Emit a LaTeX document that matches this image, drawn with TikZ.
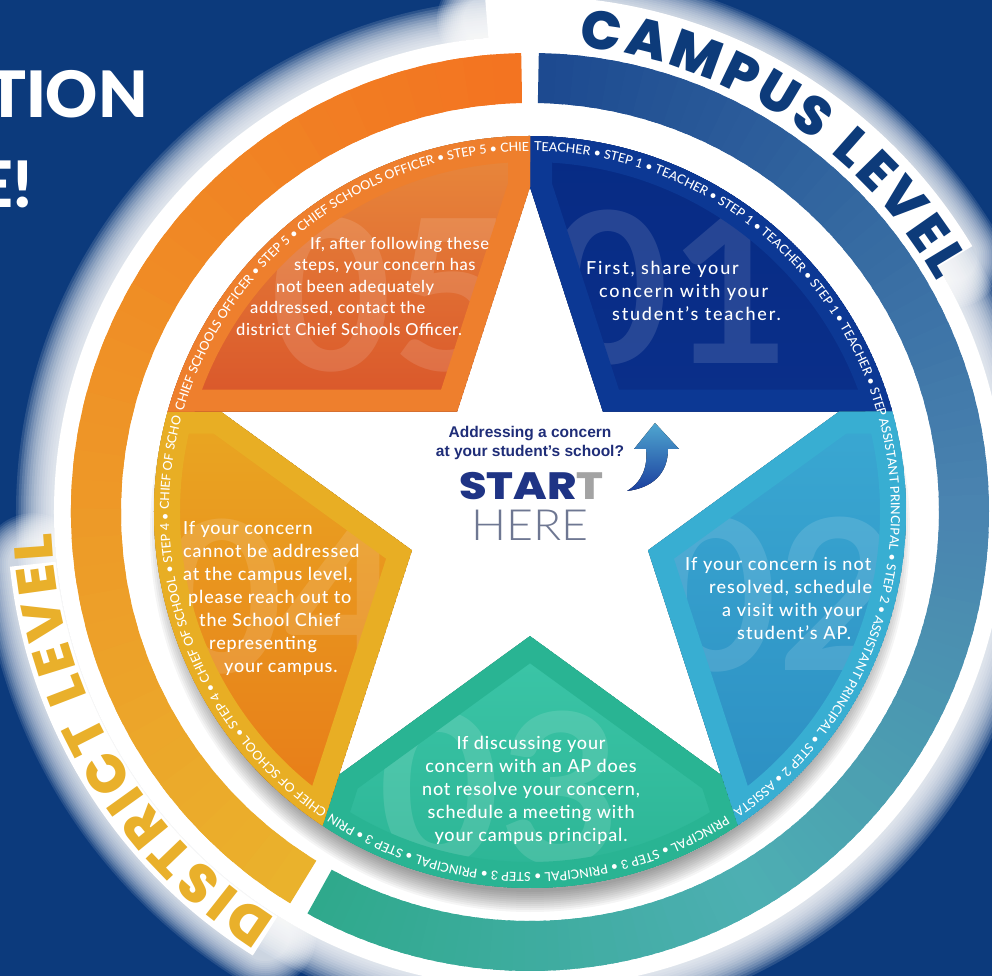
\documentclass[tikz,border=0pt]{standalone}
\usepackage{fontspec}
\setmainfont{Lato}
\IfFontExistsTF{Poppins ExtraBold}{\newfontfamily\levelfont{Poppins ExtraBold}}{\newfontfamily\levelfont{Poppins}}
\IfFontExistsTF{Lato Medium}{\newfontfamily\stepfont{Lato Medium}}{\newfontfamily\stepfont{Lato}}
\IfFontExistsTF{Lato Light}{\newfontfamily\herefont{Lato Light}}{\newfontfamily\herefont{Lato}}
\IfFontExistsTF{Lato Black}{\newfontfamily\titlefont{Lato Black}}{\newfontfamily\titlefont{Lato}}
\newfontfamily\askfont{Liberation Sans}
\usetikzlibrary{decorations.text}

\definecolor{bgblue}{HTML}{0C3A7C}
\definecolor{levelnavy}{HTML}{0D3B7A}
\definecolor{levelgold}{HTML}{E9B02B}
\definecolor{ringorange}{HTML}{F37421}
\definecolor{ringgold}{HTML}{EAB22C}
\definecolor{ringblue}{HTML}{1D4A90}
\definecolor{ringsteel}{HTML}{4A84B0}
\definecolor{ringaqua}{HTML}{4DAFB2}
\definecolor{ringteal}{HTML}{2FA98C}
\definecolor{bandone}{HTML}{0C3894}
\definecolor{topone}{HTML}{072B84}
\definecolor{botone}{HTML}{0A2F8A}
\definecolor{bandtwo}{HTML}{38AED2}
\definecolor{toptwo}{HTML}{3AA8D2}
\definecolor{bottwo}{HTML}{2C8EC2}
\definecolor{bandthree}{HTML}{29B493}
\definecolor{topthree}{HTML}{3CC6A8}
\definecolor{botthree}{HTML}{2AB393}
\definecolor{bandfour}{HTML}{E8AE24}
\definecolor{topfour}{HTML}{E9A722}
\definecolor{botfour}{HTML}{E87A18}
\definecolor{bandfive}{HTML}{EE7F2D}
\definecolor{topfive}{HTML}{E98A3C}
\definecolor{botfive}{HTML}{D9552A}
\definecolor{asknavy}{HTML}{1F2D78}
\definecolor{startnavy}{HTML}{1F3485}
\definecolor{startgray}{HTML}{A3A3A3}
\definecolor{heregray}{HTML}{6E7792}
\definecolor{arrowlight}{HTML}{4FA6D0}
\definecolor{arrowdark}{HTML}{1B3F9E}

\newcommand{\ringfont}{\stepfont\fontsize{12.5}{12.5}\selectfont}
\newcommand{\leveltype}{\levelfont\fontsize{54}{54}\selectfont}

\def\segone{(0,325) -- (72.9,100.4) -- (362.3,100.4) arc[start angle=15.5, end angle=90, radius=376] -- cycle}
\def\segtwo{(362.3,100.4) -- (309.1,100.4) -- (118.0,-38.3) -- (207.5,-313.5) arc[start angle=-56.5, end angle=15.5, radius=376] -- cycle}
\def\segthree{(207.5,-313.5) -- (191.0,-262.9) -- (0,-124.1) -- (-191.0,-262.9) -- (-207.5,-313.5) arc[start angle=236.5, end angle=303.5, radius=376] -- cycle}
\def\segfour{(-207.5,-313.5) -- (-118.0,-38.3) -- (-309.1,100.4) -- (-362.3,100.4) arc[start angle=164.5, end angle=236.5, radius=376] -- cycle}
\def\segfive{(-362.3,100.4) -- (-72.9,100.4) -- (0,325) -- (0,376) arc[start angle=90, end angle=164.5, radius=376] -- cycle}

\newcommand{\ringpart}[4]{%
  \begin{scope}
    \clip (#1:409) arc[start angle=#1, end angle=#2, radius=409] -- (#2:459) arc[start angle=#2, end angle=#1, radius=459] -- cycle;
    \foreach \i in {0,...,39} {
      \pgfmathsetmacro\ringa{#1+(#2-#1)*\i/40}
      \pgfmathsetmacro\ringb{#1+(#2-#1)*(\i+1.6)/40}
      \pgfmathtruncatemacro\ringp{100*\i/39}
      \fill[#4!\ringp!#3] (\ringa:400) arc[start angle=\ringa, end angle=\ringb, radius=400] -- (\ringb:470) arc[start angle=\ringb, end angle=\ringa, radius=470] -- cycle;
    }
  \end{scope}}

\newcommand{\levelhalo}[4]{%
  \foreach \k in {1,...,14}
    \draw[white, opacity=0.11, line width=#4+4*\k, line cap=round] (#1:#3) arc[start angle=#1, end angle=#2, radius=#3];
  \draw[white, line width=#4] (#1:#3) arc[start angle=#1, end angle=#2, radius=#3];}

\newcommand{\stepseg}[7]{%
  \begin{scope}
    \clip #2;
    \fill[top color=#4, bottom color=#5] #2;
    \node[bignum] (#1) at #7 {#6};
    \draw[#3, line width=44] #2;
    \fill[#3, even odd rule] (0,0) circle[radius=376] circle[radius=350];
  \end{scope}}

\tikzset{
  bignum/.style={text=white, opacity=0.12, font=\bfseries\fontsize{210}{210}\selectfont, inner sep=0pt},
  steptext/.style={text=white, align=left, inner sep=0pt, anchor=west, font={\stepfont\fontsize{18}{23}\selectfont\addfontfeatures{LetterSpace=4.5}}},
  ringtext/.style={decorate, decoration={text along path, text={|\ringfont|#1}, text color=white, text align={left indent=4pt}}},
  titletext/.style={text=white, inner sep=0pt, anchor=base east, font=\titlefont\fontsize{64}{64}\selectfont},
}

\begin{document}
\begin{tikzpicture}[x=1pt,y=1pt]
    \useasboundingbox (-530,-464) rectangle (462,512);
    \fill[bgblue] (-530,-464) rectangle (462,512);

    \foreach \k in {1,...,16}
        \fill[white, opacity=0.13] (0,0) circle[radius=474+2.5*\k];
    \fill[white] (0,0) circle[radius=476];
    \levelhalo{95}{31}{494}{44}
    \levelhalo{238}{186}{500}{46}

    \path[decorate, decoration={text along path, text={|\leveltype|CAMPUS LEVEL}, text color=levelnavy, text align={fit to path}}]
        (84:468) arc[start angle=84, end angle=29.5, radius=468];
    \path[decorate, decoration={text along path, text={|\leveltype|DISTRICT LEVEL}, text color=levelgold, text align={fit to path}}]
        (238:479) arc[start angle=238, end angle=182.5, radius=479];

    \ringpart{91.1}{238.5}{ringorange}{ringgold}
    \ringpart{88.9}{0}{ringblue}{ringsteel}
    \ringpart{0.5}{-60}{ringsteel}{ringaqua}
    \ringpart{-59.5}{-119}{ringaqua}{ringteal}

    \foreach \k in {0,...,10}
        \fill[black, opacity=0.04] (0,-20) circle[radius=360+2*\k];
    \fill[white] (0,0) circle[radius=376];

    \stepseg{num1}{\segone}{bandone}{topone}{botone}{01}{(139,224)}
    \stepseg{num2}{\segtwo}{bandtwo}{toptwo}{bottwo}{02}{(247,-83)}
    \stepseg{num3}{\segthree}{bandthree}{topthree}{botthree}{03}{(-30,-277)}
    \stepseg{num4}{\segfour}{bandfour}{topfour}{botfour}{04}{(-247,-85)}
    \stepseg{num5}{\segfive}{bandfive}{topfive}{botfive}{05}{(-138,217)}

    \path[ringtext={TEACHER • STEP 1 • TEACHER • STEP 1 • TEACHER • STEP 1 • TEACHER • STEP 1 • TEACHER}]
        (90:361) arc[start angle=90, end angle=15.5, radius=361];
    \path[ringtext={ASSISTANT PRINCIPAL • STEP 2 • ASSISTANT PRINCIPAL • STEP 2 • ASSISTANT PRINCIPAL}]
        (15.5:361) arc[start angle=15.5, end angle=-56.5, radius=361];
    \path[ringtext={PRINCIPAL • STEP 3 • PRINCIPAL • STEP 3 • PRINCIPAL • STEP 3 • PRINCIPAL • STEP 3}]
        (-56.5:361) arc[start angle=-56.5, end angle=-123.5, radius=361];
    \path[ringtext={CHIEF OF SCHOOL • STEP 4 • CHIEF OF SCHOOL • STEP 4 • CHIEF OF SCHOOL • STEP 4}]
        (236.5:361) arc[start angle=236.5, end angle=164.5, radius=361];
    \path[ringtext={CHIEF SCHOOLS OFFICER • STEP 5 • CHIEF SCHOOLS OFFICER • STEP 5 • CHIEF SCHOOLS}]
        (164.5:361) arc[start angle=164.5, end angle=90, radius=361];

    \node[steptext, font={\stepfont\fontsize{18}{23}\selectfont\addfontfeatures{LetterSpace=10}}] (text1) at (56,221) {First, share your\\\hspace*{13pt}concern with your\\\hspace*{26pt}student’s teacher.};
    \node[steptext, font={\stepfont\fontsize{18}{23}\selectfont\addfontfeatures{LetterSpace=6}}] (text2) at (155,-86) {If your concern is not\\\hspace*{24pt}resolved, schedule\\\hspace*{37pt}a visit with your\\\hspace*{52pt}student’s AP.};
    \node[steptext, align=center, anchor=center] (text3) at (1,-278) {If discussing your\\concern with an AP does\\not resolve your concern,\\schedule a meeting with\\your campus principal.};
    \node[steptext] (text4) at (-347,-86) {If your concern\\cannot be addressed\\at the campus level,\\\hspace*{5pt}please reach out to\\\hspace*{16pt}the School Chief\\\hspace*{26pt}representing\\\hspace*{41pt}your campus.};
    \node[steptext, font={\stepfont\fontsize{16.5}{21.5}\selectfont\addfontfeatures{LetterSpace=3.5}}] (text5) at (-294,226) {\hspace*{74pt}If, after following these\\\hspace*{58pt}steps, your concern has\\\hspace*{40pt}not been adequately\\\hspace*{14pt}addressed, contact the\\district Chief Schools Officer.};

    \node[font=\askfont\bfseries\fontsize{15.5}{19}\selectfont, text=asknavy, align=center, inner sep=0pt] (ask) at (0,69) {Addressing a concern\\at your student’s school?};
    \node[font=\levelfont\fontsize{38}{38}\selectfont, inner sep=0pt, xscale=1.17] (start) at (1.5,25.5) {\textcolor{startnavy}{STAR}\textcolor{startgray}{T}};
    \node[font=\herefont\fontsize{43}{43}\selectfont, text=heregray, inner sep=0pt, xscale=1.08] (here) at (0,-13) {HERE};
    \fill[top color=arrowlight, bottom color=arrowdark] (125,89) -- (149,63) -- (138,63) .. controls (138,38) and (122,24) .. (97,21) .. controls (112,30) and (118,45) .. (116,63) -- (104,63) -- cycle;

    \node[titletext] (title1) at (-382,394) {TION};
    \node[titletext] (title2) at (-498,304) {E!};
\end{tikzpicture}
\end{document}
